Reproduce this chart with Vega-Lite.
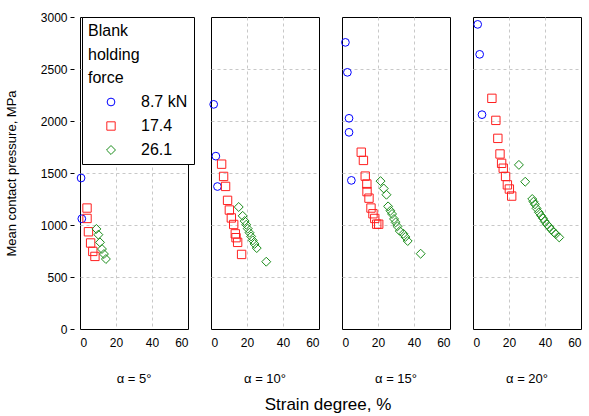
{
  "$schema": "https://vega.github.io/schema/vega-lite/v6.json",
  "padding": {"top": 11, "left": 5, "right": 5, "bottom": 5},
  "background": "white",
  "data": {"values": [
    {"angle": "α = 5°", "force": "8.7 kN", "strain": 0.6, "pressure": 1452},
    {"angle": "α = 5°", "force": "8.7 kN", "strain": 1.0, "pressure": 1060},
    {"angle": "α = 5°", "force": "17.4", "strain": 3.9, "pressure": 1163},
    {"angle": "α = 5°", "force": "17.4", "strain": 3.9, "pressure": 1063},
    {"angle": "α = 5°", "force": "17.4", "strain": 4.7, "pressure": 935},
    {"angle": "α = 5°", "force": "17.4", "strain": 5.9, "pressure": 827},
    {"angle": "α = 5°", "force": "17.4", "strain": 7.1, "pressure": 746},
    {"angle": "α = 5°", "force": "17.4", "strain": 8.3, "pressure": 698},
    {"angle": "α = 5°", "force": "26.1", "strain": 9.1, "pressure": 962},
    {"angle": "α = 5°", "force": "26.1", "strain": 10.2, "pressure": 907},
    {"angle": "α = 5°", "force": "26.1", "strain": 11.1, "pressure": 833},
    {"angle": "α = 5°", "force": "26.1", "strain": 12.2, "pressure": 769},
    {"angle": "α = 5°", "force": "26.1", "strain": 13.3, "pressure": 721},
    {"angle": "α = 5°", "force": "26.1", "strain": 14.4, "pressure": 673},

    {"angle": "α = 10°", "force": "8.7 kN", "strain": 1.5, "pressure": 2160},
    {"angle": "α = 10°", "force": "8.7 kN", "strain": 2.7, "pressure": 1662},
    {"angle": "α = 10°", "force": "8.7 kN", "strain": 3.6, "pressure": 1370},
    {"angle": "α = 10°", "force": "17.4", "strain": 5.9, "pressure": 1585},
    {"angle": "α = 10°", "force": "17.4", "strain": 7.0, "pressure": 1467},
    {"angle": "α = 10°", "force": "17.4", "strain": 8.1, "pressure": 1371},
    {"angle": "α = 10°", "force": "17.4", "strain": 9.2, "pressure": 1237},
    {"angle": "α = 10°", "force": "17.4", "strain": 10.2, "pressure": 1144},
    {"angle": "α = 10°", "force": "17.4", "strain": 11.3, "pressure": 1068},
    {"angle": "α = 10°", "force": "17.4", "strain": 12.6, "pressure": 1005},
    {"angle": "α = 10°", "force": "17.4", "strain": 13.5, "pressure": 915},
    {"angle": "α = 10°", "force": "17.4", "strain": 13.9, "pressure": 878},
    {"angle": "α = 10°", "force": "17.4", "strain": 14.8, "pressure": 833},
    {"angle": "α = 10°", "force": "17.4", "strain": 17.0, "pressure": 717},
    {"angle": "α = 10°", "force": "26.1", "strain": 15.4, "pressure": 1173},
    {"angle": "α = 10°", "force": "26.1", "strain": 17.6, "pressure": 1088},
    {"angle": "α = 10°", "force": "26.1", "strain": 18.7, "pressure": 1038},
    {"angle": "α = 10°", "force": "26.1", "strain": 19.6, "pressure": 1003},
    {"angle": "α = 10°", "force": "26.1", "strain": 20.4, "pressure": 965},
    {"angle": "α = 10°", "force": "26.1", "strain": 21.4, "pressure": 926},
    {"angle": "α = 10°", "force": "26.1", "strain": 22.3, "pressure": 890},
    {"angle": "α = 10°", "force": "26.1", "strain": 23.2, "pressure": 852},
    {"angle": "α = 10°", "force": "26.1", "strain": 24.2, "pressure": 818},
    {"angle": "α = 10°", "force": "26.1", "strain": 25.4, "pressure": 778},
    {"angle": "α = 10°", "force": "26.1", "strain": 30.7, "pressure": 647},

    {"angle": "α = 15°", "force": "8.7 kN", "strain": 1.9, "pressure": 2756},
    {"angle": "α = 15°", "force": "8.7 kN", "strain": 3.0, "pressure": 2468},
    {"angle": "α = 15°", "force": "8.7 kN", "strain": 3.9, "pressure": 2026},
    {"angle": "α = 15°", "force": "8.7 kN", "strain": 3.9, "pressure": 1891},
    {"angle": "α = 15°", "force": "8.7 kN", "strain": 5.2, "pressure": 1429},
    {"angle": "α = 15°", "force": "17.4", "strain": 10.7, "pressure": 1700},
    {"angle": "α = 15°", "force": "17.4", "strain": 11.9, "pressure": 1621},
    {"angle": "α = 15°", "force": "17.4", "strain": 12.9, "pressure": 1470},
    {"angle": "α = 15°", "force": "17.4", "strain": 13.8, "pressure": 1394},
    {"angle": "α = 15°", "force": "17.4", "strain": 13.9, "pressure": 1321},
    {"angle": "α = 15°", "force": "17.4", "strain": 15.0, "pressure": 1258},
    {"angle": "α = 15°", "force": "17.4", "strain": 16.1, "pressure": 1163},
    {"angle": "α = 15°", "force": "17.4", "strain": 17.2, "pressure": 1108},
    {"angle": "α = 15°", "force": "17.4", "strain": 18.2, "pressure": 1063},
    {"angle": "α = 15°", "force": "17.4", "strain": 19.3, "pressure": 1008},
    {"angle": "α = 15°", "force": "17.4", "strain": 20.4, "pressure": 1008},
    {"angle": "α = 15°", "force": "26.1", "strain": 21.4, "pressure": 1422},
    {"angle": "α = 15°", "force": "26.1", "strain": 23.2, "pressure": 1351},
    {"angle": "α = 15°", "force": "26.1", "strain": 24.7, "pressure": 1291},
    {"angle": "α = 15°", "force": "26.1", "strain": 25.6, "pressure": 1179},
    {"angle": "α = 15°", "force": "26.1", "strain": 26.9, "pressure": 1137},
    {"angle": "α = 15°", "force": "26.1", "strain": 27.8, "pressure": 1106},
    {"angle": "α = 15°", "force": "26.1", "strain": 28.9, "pressure": 1058},
    {"angle": "α = 15°", "force": "26.1", "strain": 29.8, "pressure": 1025},
    {"angle": "α = 15°", "force": "26.1", "strain": 30.8, "pressure": 987},
    {"angle": "α = 15°", "force": "26.1", "strain": 32.1, "pressure": 942},
    {"angle": "α = 15°", "force": "26.1", "strain": 34.1, "pressure": 916},
    {"angle": "α = 15°", "force": "26.1", "strain": 35.2, "pressure": 885},
    {"angle": "α = 15°", "force": "26.1", "strain": 36.5, "pressure": 846},
    {"angle": "α = 15°", "force": "26.1", "strain": 43.7, "pressure": 724},

    {"angle": "α = 20°", "force": "8.7 kN", "strain": 2.6, "pressure": 2929},
    {"angle": "α = 20°", "force": "8.7 kN", "strain": 3.7, "pressure": 2641},
    {"angle": "α = 20°", "force": "8.7 kN", "strain": 5.0, "pressure": 2061},
    {"angle": "α = 20°", "force": "17.4", "strain": 10.5, "pressure": 2218},
    {"angle": "α = 20°", "force": "17.4", "strain": 12.7, "pressure": 2006},
    {"angle": "α = 20°", "force": "17.4", "strain": 13.8, "pressure": 1833},
    {"angle": "α = 20°", "force": "17.4", "strain": 15.0, "pressure": 1683},
    {"angle": "α = 20°", "force": "17.4", "strain": 15.9, "pressure": 1593},
    {"angle": "α = 20°", "force": "17.4", "strain": 16.8, "pressure": 1546},
    {"angle": "α = 20°", "force": "17.4", "strain": 18.1, "pressure": 1467},
    {"angle": "α = 20°", "force": "17.4", "strain": 19.1, "pressure": 1386},
    {"angle": "α = 20°", "force": "17.4", "strain": 20.2, "pressure": 1346},
    {"angle": "α = 20°", "force": "17.4", "strain": 21.5, "pressure": 1278},
    {"angle": "α = 20°", "force": "26.1", "strain": 25.5, "pressure": 1578},
    {"angle": "α = 20°", "force": "26.1", "strain": 29.0, "pressure": 1416},
    {"angle": "α = 20°", "force": "26.1", "strain": 32.9, "pressure": 1250},
    {"angle": "α = 20°", "force": "26.1", "strain": 33.6, "pressure": 1224},
    {"angle": "α = 20°", "force": "26.1", "strain": 34.4, "pressure": 1199},
    {"angle": "α = 20°", "force": "26.1", "strain": 35.3, "pressure": 1160},
    {"angle": "α = 20°", "force": "26.1", "strain": 36.6, "pressure": 1122},
    {"angle": "α = 20°", "force": "26.1", "strain": 37.8, "pressure": 1090},
    {"angle": "α = 20°", "force": "26.1", "strain": 38.9, "pressure": 1064},
    {"angle": "α = 20°", "force": "26.1", "strain": 39.8, "pressure": 1035},
    {"angle": "α = 20°", "force": "26.1", "strain": 41.1, "pressure": 1006},
    {"angle": "α = 20°", "force": "26.1", "strain": 42.4, "pressure": 981},
    {"angle": "α = 20°", "force": "26.1", "strain": 43.6, "pressure": 955},
    {"angle": "α = 20°", "force": "26.1", "strain": 44.9, "pressure": 929},
    {"angle": "α = 20°", "force": "26.1", "strain": 46.0, "pressure": 913},
    {"angle": "α = 20°", "force": "26.1", "strain": 47.9, "pressure": 881}
  ]},
  "facet": {
    "column": {
      "field": "angle",
      "type": "nominal",
      "sort": ["α = 5°", "α = 10°", "α = 15°", "α = 20°"],
      "title": "Strain degree, %",
      "header": {
        "labelOrient": "bottom",
        "titleOrient": "bottom",
        "labelFontSize": 13,
        "titleFontSize": 17,
        "titleFontWeight": "normal",
        "labelPadding": 25,
        "titlePadding": 1,
        "labelColor": "black",
        "titleColor": "black"
      }
    }
  },
  "spacing": 18,
  "spec": {
    "width": 108,
    "height": 312,
    "mark": {"type": "point", "filled": false, "strokeWidth": 1, "opacity": 1},
    "encoding": {
      "x": {
        "field": "strain", "type": "quantitative",
        "scale": {"domain": [0, 60], "nice": false, "zero": false},
        "axis": {"title": null, "values": [0, 20, 40, 60], "ticks": false, "labelPadding": 7, "labelFontSize": 12, "labelColor": "black",
                 "gridDash": [3, 3], "gridColor": "#c8c8c8", "domain": false,
                 "gridOpacity": {"condition": {"test": "datum.value <= 0 || datum.value >= 60", "value": 0}, "value": 1}}
      },
      "y": {
        "field": "pressure", "type": "quantitative",
        "scale": {"domain": [0, 3000], "nice": false},
        "axis": {"title": "Mean contact pressure, MPa", "values": [0, 500, 1000, 1500, 2000, 2500, 3000], "format": "d", "tickSize": 4, "tickColor": "black",
                 "labelFontSize": 12, "labelColor": "black", "titleFontSize": 13, "titleFontWeight": "normal", "titleColor": "black",
                 "titlePadding": 22, "labelPadding": 3,
                 "gridDash": [3, 3], "gridColor": "#c8c8c8", "domain": false,
                 "gridOpacity": {"condition": {"test": "datum.value <= 0 || datum.value >= 3000", "value": 0}, "value": 1}}
      },
      "color": {
        "field": "force", "type": "nominal",
        "scale": {"domain": ["8.7 kN", "17.4", "26.1"], "range": ["#0000ff", "#ff2020", "#1a8c1a"]},
        "legend": {
          "title": ["Blank", "holding", "force"],
          "orient": "none", "legendX": 2, "legendY": 0,
          "titleFontSize": 16, "titleFontWeight": "normal", "titleLineHeight": 23.5, "titleColor": "black", "titlePadding": 8,
          "labelFontSize": 16, "labelColor": "black", "labelOffset": 22,
          "symbolOffset": 15, "symbolStrokeWidth": 1,
          "rowPadding": 8, "padding": 6,
          "strokeColor": "black", "fillColor": "white"
        }
      },
      "shape": {
        "field": "force", "type": "nominal",
        "scale": {"domain": ["8.7 kN", "17.4", "26.1"], "range": ["circle", "square", "diamond"]}
      },
      "size": {
        "field": "force", "type": "nominal",
        "scale": {"domain": ["8.7 kN", "17.4", "26.1"], "range": [60, 80, 150]}
      }
    }
  },
  "config": {
    "font": "Liberation Sans",
    "view": {"stroke": "black", "strokeWidth": 1}
  }
}
